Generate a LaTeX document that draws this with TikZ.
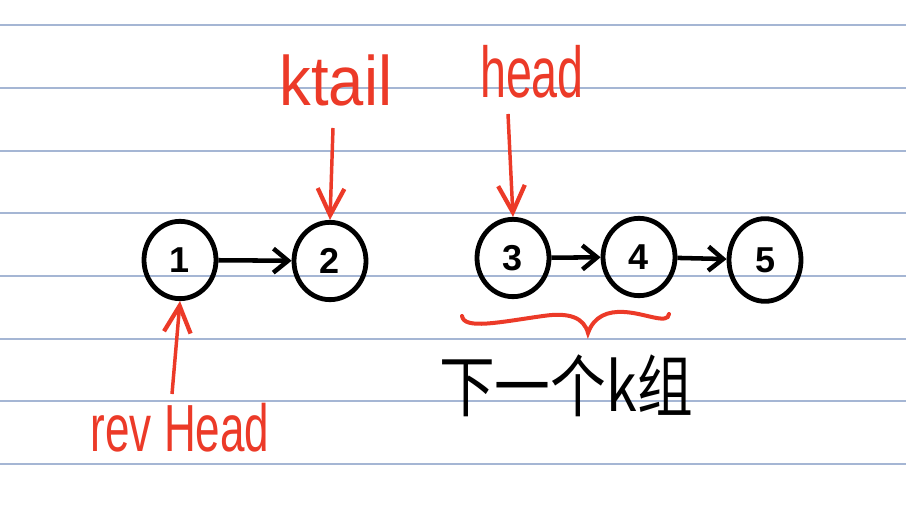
\documentclass[tikz,border=0pt]{standalone}
\usepackage{fontspec}
\usepackage{graphicx}
\setmainfont{Liberation Sans}
\newfontfamily\cjk{Noto Sans CJK SC}
\usetikzlibrary{shapes.geometric,arrows.meta}
\definecolor{inkred}{RGB}{236,58,40}
\definecolor{ruled}{RGB}{165,182,212}
\begin{document}
\begin{tikzpicture}[x=0.75pt,y=-0.75pt,
  rule/.style={draw=ruled,line width=1.4pt},
  listnode/.style={ellipse,draw=black,line width=3.6pt,minimum width=54pt,minimum height=58pt,inner sep=0pt,font=\bfseries\fontsize{27}{27}\selectfont},
  link/.style={draw=black,line width=3.4pt,-{Straight Barb[length=11pt,width=18pt,line width=3.4pt]}},
  pointer/.style={draw=inkred,line width=2.6pt,-{Straight Barb[length=20pt,width=20pt,line width=3.2pt]}},
  redlabel/.style={text=inkred,inner sep=0pt,font=\fontsize{50}{50}\selectfont},
  cjklabel/.style={text=black,inner sep=0pt,font=\cjk\fontsize{44}{44}\selectfont}]
\useasboundingbox (0,0) rectangle (906,516);
\fill[white] (0,0) rectangle (906,516);
% ruled lines
\foreach \yy in {25.3,88,150.7,213.3,276,338.7,401.3,464}
  \draw[rule] (0,\yy) -- (906,\yy);
% list nodes
\node[listnode] (n1) at (180,260) {1};
\node[listnode] (n2) at (330,261) {2};
\node[listnode] (n3) at (513,258) {3};
\node[listnode] (n4) at (639,257) {4};
\node[listnode,minimum height=62pt] (n5) at (765,260) {5};
% links
\draw[link] (n1) -- (n2);
\draw[link] (n3) -- (n4);
\draw[link] (n4) -- (n5);
% labels
\node[redlabel] (ktail) at (336,80) {\scalebox{0.95}[1.05]{ktail}};
\node[redlabel] (head) at (532,72) {\scalebox{0.7}[1.08]{head}};
\node[redlabel] (revhead) at (180,428) {\scalebox{0.66}[1]{rev Head}};
\node[cjklabel] (group) at (566,386) {\scalebox{0.95}[1.15]{下一个k组}};
% pointers
\coordinate (kt) at (333,128);
\coordinate (hd) at (508,114);
\coordinate (rh) at (172,394);
\draw[pointer] (kt) -- (n2.north);
\draw[pointer] (hd) -- (n3.north);
\draw[pointer] (rh) -- (n1.south);
% brace
\draw[inkred,line width=3pt,line cap=round]
  (462,316) .. controls (464,330) and (500,322) .. (543,316)
  .. controls (570,312) and (584,318) .. (588,333)
  .. controls (594,316) and (608,311) .. (624,312)
  .. controls (645,313) and (668,325) .. (669,314);
\end{tikzpicture}
\end{document}
